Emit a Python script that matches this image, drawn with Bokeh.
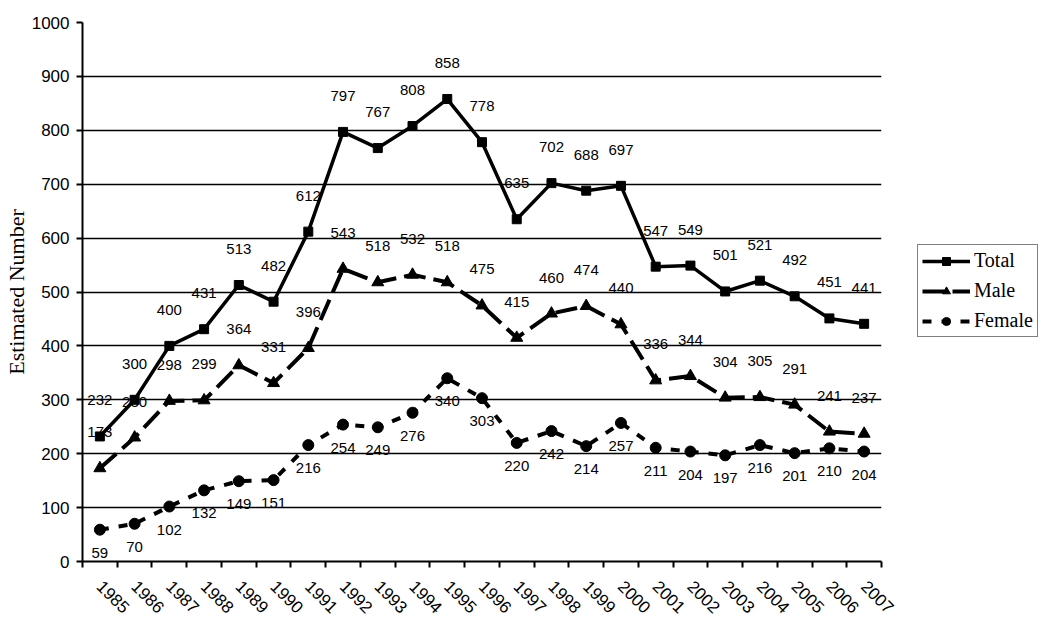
from bokeh.plotting import figure
from bokeh.models import (Range1d, FixedTicker, Legend, LegendItem, ColumnDataSource)
from bokeh.core.properties import value
from bokeh.embed import file_html
from bokeh.resources import INLINE

years = ["1985", "1986", "1987", "1988", "1989", "1990", "1991", "1992", "1993", "1994",
         "1995", "1996", "1997", "1998", "1999", "2000", "2001", "2002", "2003", "2004",
         "2005", "2006", "2007"]
total = [232, 300, 400, 431, 513, 482, 612, 797, 767, 808, 858, 778, 635, 702, 688, 697,
         547, 549, 501, 521, 492, 451, 441]
male = [173, 230, 298, 299, 364, 331, 396, 543, 518, 532, 518, 475, 415, 460, 474, 440,
        336, 344, 304, 305, 291, 241, 237]
female = [59, 70, 102, 132, 149, 151, 216, 254, 249, 276, 340, 303, 220, 242, 214, 257,
          211, 204, 197, 216, 201, 210, 204]
y_ticks = [0, 100, 200, 300, 400, 500, 600, 700, 800, 900, 1000]

n = len(years)
xc = [i + 0.5 for i in range(n)]

SANS = "Liberation Sans"
SERIF = "Liberation Serif"

p = figure(frame_width=799, frame_height=539, output_backend="svg", toolbar_location=None,
           x_range=Range1d(0, n), y_range=Range1d(0, 1000),
           min_border_left=74, min_border_right=161, min_border_top=22, min_border_bottom=40)
p.outline_line_color = None
p.background_fill_color = "white"
p.border_fill_color = "white"

# x axis: labels at category centres, tick marks at category boundaries
xax = p.xaxis[0]
xax.ticker = FixedTicker(ticks=xc, minor_ticks=list(range(n + 1)))
xax.major_label_overrides = {xc[i]: years[i] for i in range(n)}
xax.major_label_orientation = -0.7854
xax.major_tick_out = 0
xax.major_tick_in = 0
xax.minor_tick_out = 6
xax.minor_tick_in = 0
xax.minor_tick_line_color = "black"
xax.minor_tick_line_width = 2
xax.axis_line_color = "black"
xax.axis_line_width = 2
xax.major_label_text_font = SANS
xax.major_label_text_font_size = "17px"
xax.major_label_text_color = "black"
xax.major_label_standoff = 16

yax = p.yaxis[0]
yax.ticker = FixedTicker(ticks=y_ticks)
yax.minor_tick_line_color = None
yax.major_tick_out = 6
yax.major_tick_in = 0
yax.major_tick_line_color = "black"
yax.major_tick_line_width = 2
yax.axis_line_color = "black"
yax.axis_line_width = 2
yax.major_label_text_font = SANS
yax.major_label_text_font_size = "17px"
yax.major_label_text_color = "black"
yax.major_label_standoff = 7
yax.axis_label = "Estimated Number"
yax.axis_label_text_font = SERIF
yax.axis_label_text_font_style = "normal"
yax.axis_label_text_font_size = "22px"
yax.axis_label_text_color = "black"
yax.axis_label_standoff = 0

p.xgrid.visible = False
p.ygrid.ticker = FixedTicker(ticks=y_ticks[1:-1])
p.ygrid.grid_line_color = "black"
p.ygrid.grid_line_width = 1.5

src = ColumnDataSource(dict(x=xc, total=total, male=male, female=female,
                            tl=[str(v) for v in total], ml=[str(v) for v in male],
                            fl=[str(v) for v in female]))

l_t = p.line("x", "total", source=src, line_color="black", line_width=3.5)
m_t = p.scatter("x", "total", source=src, marker="square", size=9, color="black")
l_m = p.line("x", "male", source=src, line_color="black", line_width=4, line_dash="22 8")
m_m = p.scatter("x", "male", source=src, marker="triangle", size=12, color="black")
l_f = p.line("x", "female", source=src, line_color="black", line_width=4, line_dash="9 10")
m_f = p.scatter("x", "female", source=src, marker="circle", size=11, color="black")

lab_kw = dict(text_align="center", text_baseline="middle", text_font=value(SANS),
              text_font_size="15px", text_color="black")
p.text("x", "total", text="tl", source=src, y_offset=-36, **lab_kw)
p.text("x", "male", text="ml", source=src, y_offset=-36, **lab_kw)
p.text("x", "female", text="fl", source=src, y_offset=23, **lab_kw)

legend = Legend(items=[LegendItem(label="Total", renderers=[l_t, m_t]),
                       LegendItem(label="Male", renderers=[l_m, m_m]),
                       LegendItem(label="Female", renderers=[l_f, m_f])],
                location=(36, 224))
legend.label_text_font = SERIF
legend.label_text_font_size = "20px"
legend.label_text_color = "black"
legend.glyph_width = 48
legend.glyph_height = 20
legend.spacing = 7
legend.padding = 4
legend.margin = 0
legend.label_standoff = 4
legend.border_line_color = "black"
legend.border_line_width = 1.5
legend.background_fill_color = "white"
p.add_layout(legend, "right")

open("out.html", "w").write(file_html(p, INLINE))
